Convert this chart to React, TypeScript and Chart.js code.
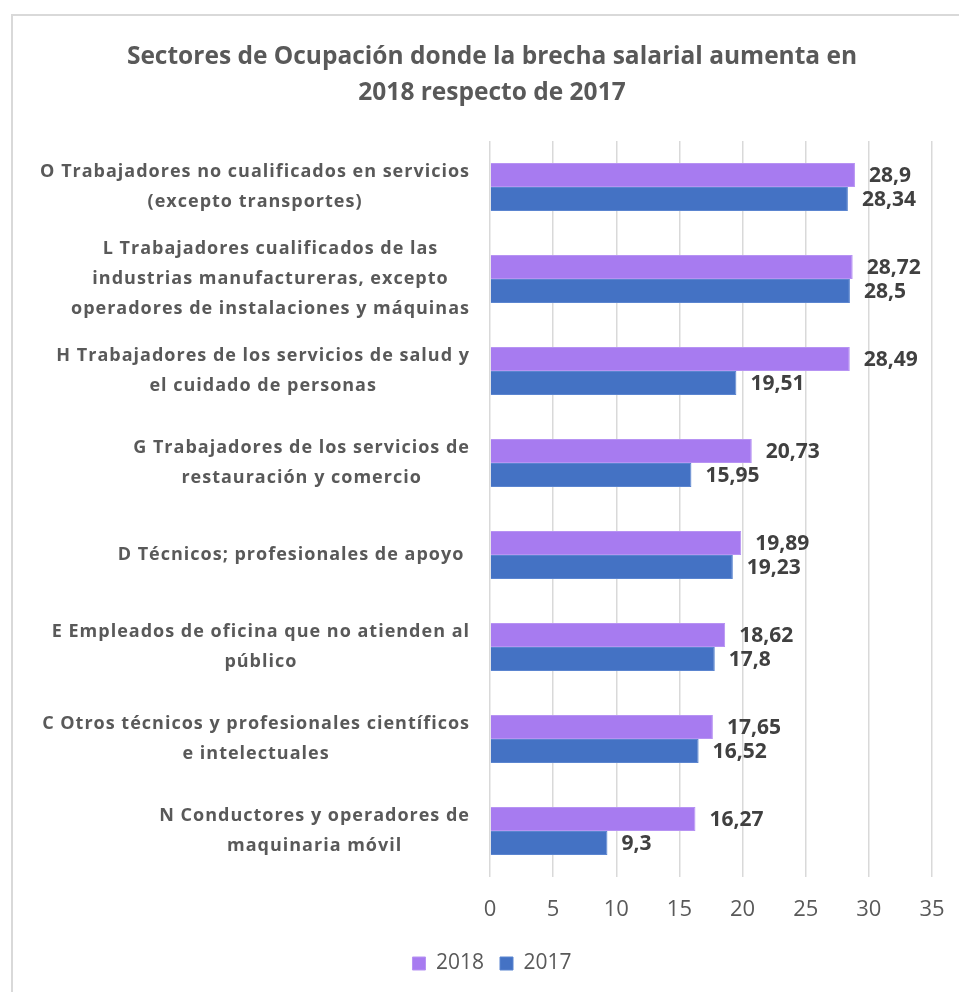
import React, { useEffect, useRef } from "react";
import { Chart, registerables } from "chart.js";

Chart.register(...registerables);

const titleLines: string[] = [
  "Sectores de Ocupación donde la brecha salarial aumenta en",
  "2018 respecto de 2017",
];

const categories: string[][] = [
  ["O Trabajadores no cualificados en servicios", "(excepto transportes)"],
  ["L Trabajadores cualificados de las", "industrias manufactureras, excepto", "operadores de instalaciones y máquinas"],
  ["H Trabajadores de los servicios de salud y", "el cuidado de personas"],
  ["G Trabajadores de los servicios de", "restauración y comercio"],
  ["D Técnicos; profesionales de apoyo "],
  ["E Empleados de oficina que no atienden al", "público"],
  ["C Otros técnicos y profesionales científicos", "e intelectuales"],
  ["N Conductores y operadores de", "maquinaria móvil"],
];

const seriesNames: string[] = ["2018", "2017"];
const values2018: number[] = [28.9, 28.72, 28.49, 20.73, 19.89, 18.62, 17.65, 16.27];
const values2017: number[] = [28.34, 28.5, 19.51, 15.95, 19.23, 17.8, 16.52, 9.3];

const xMin = 0;
const xMax = 35;
const xStep = 5;

const FONT = "'Open Sans', Lato, sans-serif";
const TEXT = "#595959";

export default function App() {
  const ref = useRef<HTMLCanvasElement | null>(null);

  useEffect(() => {
    if (!ref.current) return;

    const framePlugin = {
      id: "frame",
      beforeDraw(chart: any) {
        const ctx = chart.ctx;
        ctx.save();
        ctx.fillStyle = "#ffffff";
        ctx.fillRect(0, 0, chart.width, chart.height);
        ctx.strokeStyle = "#d9d9d9";
        ctx.lineWidth = 2;
        ctx.strokeRect(12, 15, chart.width + 10, chart.height + 10);
        ctx.restore();
      },
    };

    const categoryLabelPlugin = {
      id: "catLabels",
      afterDraw(chart: any) {
        const ctx = chart.ctx;
        const yScale = chart.scales.y;
        const right = chart.chartArea.left - 20;
        const lh = 30;
        ctx.save();
        ctx.font = `bold 18px ${FONT}`;
        (ctx as any).letterSpacing = "1px";
        ctx.fillStyle = TEXT;
        ctx.textAlign = "center";
        ctx.textBaseline = "middle";
        categories.forEach((lines, i) => {
          const cy = yScale.getPixelForTick(i);
          const maxW = Math.max(...lines.map((l) => ctx.measureText(l).width));
          const cx = right - maxW / 2;
          const top = cy - ((lines.length - 1) * lh) / 2;
          lines.forEach((l, j) => ctx.fillText(l, cx, top + j * lh));
        });
        ctx.restore();
      },
    };

    const valueLabelPlugin = {
      id: "valueLabels",
      afterDatasetsDraw(chart: any) {
        const ctx = chart.ctx;
        ctx.save();
        ctx.font = `bold 21px ${FONT}`;
        ctx.fillStyle = "#404040";
        ctx.textAlign = "left";
        ctx.textBaseline = "middle";
        chart.data.datasets.forEach((ds: any, di: number) => {
          const meta = chart.getDatasetMeta(di);
          meta.data.forEach((bar: any, i: number) => {
            const v = ds.data[i] as number;
            ctx.fillText(String(v).replace(".", ","), bar.x + 14, bar.y + 1);
          });
        });
        ctx.restore();
      },
    };

    const chart = new Chart(ref.current, {
      type: "bar",
      data: {
        labels: categories.map((c) => c.join(" ")),
        datasets: [
          {
            label: seriesNames[0],
            data: values2018,
            backgroundColor: "#A77BF0",
            borderColor: "#B793F3",
            borderWidth: 1,
            categoryPercentage: 0.52,
            barPercentage: 1,
          },
          {
            label: seriesNames[1],
            data: values2017,
            backgroundColor: "#4472C4",
            borderColor: "#5B85D0",
            borderWidth: 1,
            categoryPercentage: 0.52,
            barPercentage: 1,
          },
        ],
      },
      options: {
        indexAxis: "y",
        responsive: false,
        animation: false,
        devicePixelRatio: 1,
        layout: { padding: { left: 52, right: 27, top: 0, bottom: 8 } },
        scales: {
          x: {
            min: xMin,
            max: xMax,
            ticks: {
              stepSize: xStep,
              padding: 10,
              color: TEXT,
              font: { family: FONT, size: 22 },
            },
            grid: {
              color: "#d9d9d9",
              lineWidth: 1.5,
              drawTicks: true,
              tickLength: 10,
              tickColor: "rgba(0,0,0,0)",
            },
            border: { display: false },
            afterFit(scale: any) {
              scale.height = 60;
            },
          },
          y: {
            ticks: { display: false },
            grid: { display: false },
            border: { display: false },
            afterFit(scale: any) {
              scale.width = 438;
            },
          },
        },
        plugins: {
          title: {
            display: true,
            text: titleLines,
            color: TEXT,
            font: { family: FONT, size: 24.5, weight: "bold", lineHeight: 36 / 24.5 },
            padding: { top: 39, bottom: 30 },
          },
          legend: {
            position: "bottom",
            labels: {
              boxWidth: 13,
              boxHeight: 13,
              padding: 16,
              color: TEXT,
              font: { family: FONT, size: 21 },
            },
          },
          tooltip: { enabled: false },
        },
      },
      plugins: [framePlugin, categoryLabelPlugin, valueLabelPlugin],
    } as any);

    return () => chart.destroy();
  }, []);

  return (
    <div style={{ position: "fixed", left: 0, top: 0, width: 959, height: 992, background: "#fff" }}>
      <canvas ref={ref} width={959} height={992} style={{ display: "block" }} />
    </div>
  );
}
